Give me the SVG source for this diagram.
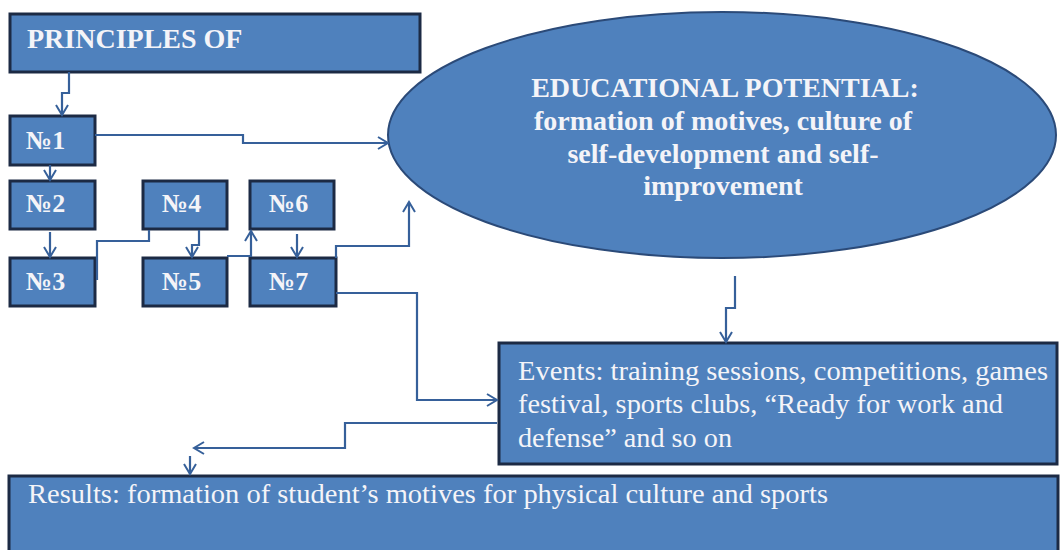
<svg xmlns="http://www.w3.org/2000/svg" width="1062" height="550" viewBox="0 0 1062 550">
<style>
.box{fill:#4F81BD;stroke:#1C2A44;stroke-width:3}
.ell{fill:#4F81BD;stroke:#2B4A78;stroke-width:2}
.t{font-family:"Liberation Serif","Times New Roman",serif;fill:#F4F4F8}
.b{font-weight:bold}
.c{fill:none;stroke:#36609A;stroke-width:2.2}
</style>
<defs>
<marker id="a" markerUnits="userSpaceOnUse" markerWidth="16" markerHeight="16" refX="11" refY="7" orient="auto">
<path d="M1,1 L11,7 L1,13" fill="none" stroke="#36609A" stroke-width="2"/>
</marker>
</defs>
<rect width="1062" height="550" fill="#FFFFFF"/>
<g id="principles"><rect class="box" x="10" y="14" width="410" height="58"/><text class="t b" x="27" y="48" font-size="28">PRINCIPLES OF</text></g>
<g id="n1"><rect class="box" x="10" y="116" width="85" height="49"/><text class="t b" x="26" y="149" font-size="26">№1</text></g>
<g id="n2"><rect class="box" x="10" y="181" width="85" height="48"/><text class="t b" x="26" y="212" font-size="26">№2</text></g>
<g id="n3"><rect class="box" x="10" y="258" width="85" height="48"/><text class="t b" x="26" y="290" font-size="26">№3</text></g>
<g id="n4"><rect class="box" x="143" y="181" width="84" height="48"/><text class="t b" x="162" y="212" font-size="26">№4</text></g>
<g id="n5"><rect class="box" x="143" y="258" width="84" height="48"/><text class="t b" x="162" y="290" font-size="26">№5</text></g>
<g id="n6"><rect class="box" x="250" y="181" width="84" height="48"/><text class="t b" x="269" y="212" font-size="26">№6</text></g>
<g id="n7"><rect class="box" x="250" y="258" width="86" height="48"/><text class="t b" x="269" y="290" font-size="26">№7</text></g>
<g id="potential"><ellipse class="ell" cx="722" cy="135" rx="334" ry="123"/>
<text class="t b" font-size="28" text-anchor="middle"><tspan x="725" y="97">EDUCATIONAL POTENTIAL:</tspan><tspan x="723" y="130">formation of motives, culture of</tspan><tspan x="723" y="163">self-development and self-</tspan><tspan x="723" y="195">improvement</tspan></text></g>
<g id="events"><rect class="box" x="499" y="343" width="558" height="121"/>
<text class="t" font-size="28"><tspan x="518" y="380" textLength="530" lengthAdjust="spacingAndGlyphs">Events: training sessions, competitions, games</tspan><tspan x="518" y="413" textLength="485" lengthAdjust="spacingAndGlyphs">festival, sports clubs, “Ready for work and</tspan><tspan x="518" y="447" textLength="214" lengthAdjust="spacingAndGlyphs">defense” and so on</tspan></text></g>
<g id="results"><rect class="box" x="9" y="476" width="1049" height="80"/>
<text class="t" x="28" y="503" font-size="28" textLength="800" lengthAdjust="spacingAndGlyphs">Results: formation of student’s motives for physical culture and sports</text></g>
<g id="connectors">
<path class="c" d="M69,72 V93 H62 V115" marker-end="url(#a)"/>
<path class="c" d="M95,135 H243 V143 H388" marker-end="url(#a)"/>
<path class="c" d="M50,165 V180" marker-end="url(#a)"/>
<path class="c" d="M50,232 V257" marker-end="url(#a)"/>
<path class="c" d="M97,280 V241 H149 V230"/>
<path class="c" d="M199,230 V245 H192 V257" marker-end="url(#a)"/>
<path class="c" d="M227,256 H251 V231" marker-end="url(#a)"/>
<path class="c" d="M297,234 V257" marker-end="url(#a)"/>
<path class="c" d="M336,258 V246 H409 V202" marker-end="url(#a)"/>
<path class="c" d="M336,293 H417 V400 H497" marker-end="url(#a)"/>
<path class="c" d="M735,276 V308 H726 V342" marker-end="url(#a)"/>
<path class="c" d="M497,423 H345 V448 H194" marker-end="url(#a)"/>
<path class="c" d="M190,456 V474" marker-end="url(#a)"/>
</g>
</svg>
